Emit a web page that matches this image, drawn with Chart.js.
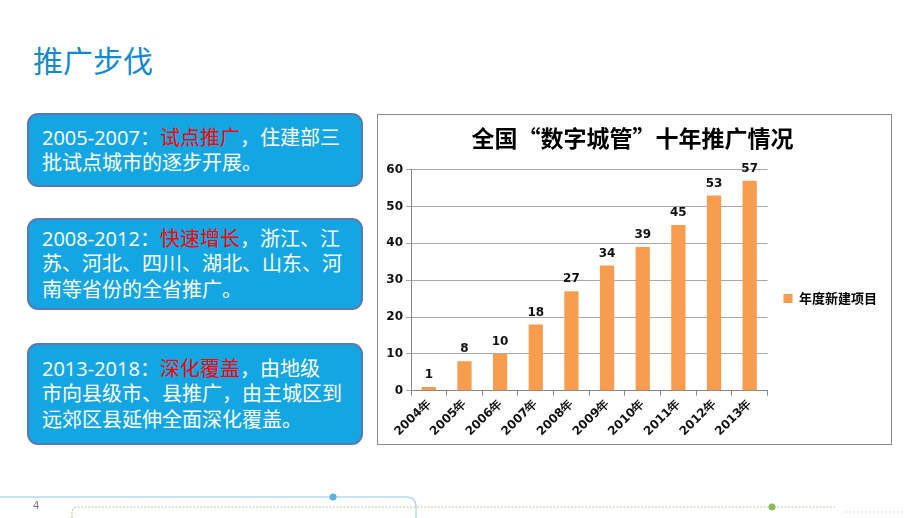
<!DOCTYPE html>
<html>
<head>
<meta charset="utf-8">
<script src="https://cdn.jsdelivr.net/npm/chart.js@4"></script>
<style>
  html, body { margin: 0; padding: 0; background: #fff; }
  body { width: 920px; height: 518px; position: relative; overflow: hidden;
         font-family: "Microsoft YaHei", "Noto Sans CJK SC", sans-serif; }
  .title { position: absolute; left: 33px; top: 39px; font-size: 30px; color: #1589CF; line-height: 40px; }
  .box { position: absolute; left: 27px; width: 336px; box-sizing: border-box;
         background: #14A6E3; border: 2px solid #5A78B4; border-radius: 11px;
         color: #fff; font-size: 20px; line-height: 25.5px; padding-left: 13px;
         font-family: "Open Sans", "Noto Sans CJK SC", sans-serif;
         display: flex; align-items: center; }
  .box .hl { color: #FF0000; }
  .chartbox { position: absolute; left: 377px; top: 114px; width: 515px; height: 331px;
              box-sizing: border-box; border: 1px solid #8A8A8A; background: #fff; }
  .chartbox canvas { display: block; }
  .pagenum { position: absolute; left: 33px; top: 499px; font-size: 11px; color: #777;
             font-family: "Liberation Sans", sans-serif; }
</style>
</head>
<body>
<div class="title">推广步伐</div>

<div class="box" style="top:113px;height:74px;">
  <div>2005-2007：<span class="hl">试点推广</span>，住建部三<br>批试点城市的逐步开展。</div>
</div>
<div class="box" style="top:218px;height:92px;">
  <div>2008-2012：<span class="hl">快速增长</span>，浙江、江<br>苏、河北、四川、湖北、山东、河<br>南等省份的全省推广。</div>
</div>
<div class="box" style="top:343px;height:102px;">
  <div>2013-2018：<span class="hl">深化覆盖</span>，由地级<br>市向县级市、县推广，由主城区到<br>远郊区县延伸全面深化覆盖。</div>
</div>

<div class="chartbox">
  <canvas id="myChart" width="513" height="329"></canvas>
</div>

<svg width="920" height="518" style="position:absolute;left:0;top:0;pointer-events:none">
  <path d="M0 497 L406 497 Q416 497 416 507 L416 518" fill="none" stroke="#B3DAEC" stroke-width="1.5"/>
  <circle cx="333" cy="497" r="3.5" fill="#5BB3E0"/>
  <path d="M72 518 L72 513 Q72 507 78 507 L835 507" fill="none" stroke="#B9C7A0" stroke-width="1.2" stroke-dasharray="2 1.5"/>
  <circle cx="772" cy="507" r="3.5" fill="#8DBB5A"/>
  <line x1="845" y1="512" x2="905" y2="512" stroke="#D8D8D8" stroke-width="1" stroke-dasharray="2 2"/>
</svg>
<div class="pagenum">4</div>

<script>
// Datos del gráfico
const years = ['2004年', '2005年', '2006年', '2007年', '2008年', '2009年', '2010年', '2011年', '2012年', '2013年'];
const newProjects = [1, 8, 10, 18, 27, 34, 39, 45, 53, 57];
const seriesName = '年度新建项目';
const chartTitle = '全国“数字城管”十年推广情况';

const barColor = '#F89C50';
const tickFont = { family: '"DejaVu Sans", Verdana, sans-serif', size: 12, weight: 'bold' };

// Plugin para dibujar el valor encima de cada barra
const valueLabels = {
  id: 'valueLabels',
  afterDatasetsDraw(chart) {
    const ctx = chart.ctx;
    const meta = chart.getDatasetMeta(0);
    ctx.save();
    ctx.font = 'bold 12px "DejaVu Sans", Verdana, sans-serif';
    ctx.fillStyle = '#111';
    ctx.textAlign = 'center';
    ctx.textBaseline = 'bottom';
    meta.data.forEach((bar, i) => {
      ctx.fillText(String(chart.data.datasets[0].data[i]), bar.x, bar.y - 6);
    });
    ctx.restore();
  }
};

const ctx = document.getElementById('myChart').getContext('2d');
const chart = new Chart(ctx, {
  type: 'bar',
  data: {
    labels: years,
    datasets: [{
      label: seriesName,
      data: newProjects,
      backgroundColor: barColor,
      borderWidth: 0,
      categoryPercentage: 1,
      barPercentage: 0.4
    }]
  },
  options: {
    responsive: false,
    animation: false,
    layout: { padding: { left: 0, right: 4, top: 0, bottom: 4 } },
    plugins: {
      title: {
        display: true,
        text: chartTitle,
        color: '#000',
        font: { family: '"Noto Sans CJK SC", sans-serif', size: 23, weight: 'bold' },
        padding: { top: 9, bottom: 18 }
      },
      legend: {
        position: 'right',
        title: { display: true, text: ' ', font: { size: 10 }, padding: { top: 15, bottom: 15 } },
        labels: {
          boxWidth: 9,
          boxHeight: 9,
          color: '#000',
          padding: 16,
          font: { family: '"Noto Sans CJK SC", sans-serif', size: 13, weight: 'bold' }
        }
      },
      tooltip: { enabled: false }
    },
    scales: {
      x: {
        grid: { display: true, drawOnChartArea: false, tickLength: 5, color: '#868686', offset: true },
        border: { color: '#868686' },
        ticks: { color: '#111', font: tickFont, minRotation: 45, maxRotation: 45, padding: 1 }
      },
      y: {
        min: 0,
        max: 60,
        afterFit(scale) { scale.width = 33; },
        grid: { color: '#A8A8A8', tickLength: 5 },
        border: { color: '#868686' },
        ticks: { stepSize: 10, color: '#111', font: tickFont, padding: 3 }
      }
    }
  },
  plugins: [valueLabels]
});
</script>
</body>
</html>
